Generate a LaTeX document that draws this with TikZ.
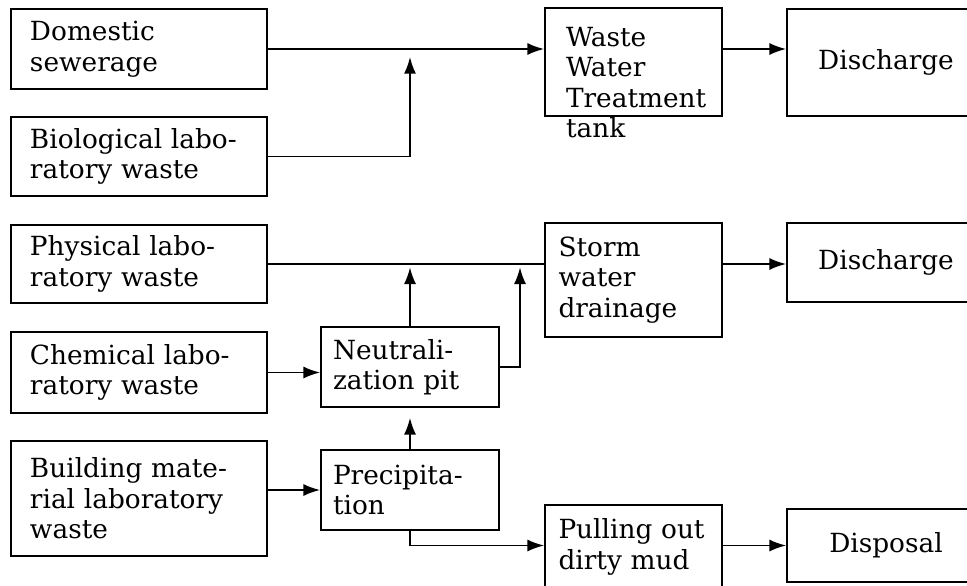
\documentclass[tikz,border=0pt]{standalone}
\usepackage{fontspec}
\setmainfont{DejaVu Serif}
\usetikzlibrary{arrows.meta,calc}

\begin{document}
\begin{tikzpicture}[x=0.3mm, y=-0.3mm, line width=1.5pt,
box/.style={rectangle,draw,inner ysep=0pt,font=\fontsize{22.5}{26}\selectfont},
inbox/.style={box,inner xsep=5.7mm,text width=65.4mm,align=left},
midbox/.style={box,inner xsep=3.6mm,text width=46.2mm,align=left,minimum height=24mm},
tankbox/.style={box,inner xsep=4.05mm,text width=45mm,align=left},
outbox/.style={box,minimum width=59.4mm,align=center},
boxtext/.style={font=\fontsize{22.5}{26}\selectfont,align=left,inner sep=0pt},
flow/.style={-{Latex[length=5mm,width=3.6mm]}}
]
\useasboundingbox (0,0) rectangle (967,585);
\clip (0,0) rectangle (967,585);

%% sources
\node[inbox, minimum height=24mm] (dom) at (139,49) {Domestic\\sewerage};
\node[inbox, minimum height=23.7mm] (bio) at (139,156.5) {Biological labo-\\ratory waste};
\node[inbox, minimum height=23.4mm] (phy) at (139,264) {Physical labo-\\ratory waste};
\node[inbox, minimum height=24.3mm] (chem) at (139,372.5) {Chemical labo-\\ratory waste};
\node[inbox, minimum height=34.5mm] (bld) at (139,498.5) {Building mate-\\rial laboratory\\waste};

%% treatment
\node[midbox] (neu) at (410,367) {Neutrali-\\zation pit};
\node[midbox] (pre) at (410,490) {Precipita-\\tion};
\node[tankbox, minimum height=32.4mm] (wwt) at (633.5,62) {};
\node[boxtext, anchor=north west] (wwttext) at ($(wwt.north west)+(21,19)$) {Waste\\Water\\Treatment\\tank};
\node[tankbox, minimum height=34.2mm] (storm) at (633.5,280) {Storm\\water\\drainage};
\node[tankbox, minimum height=25.2mm] (pull) at (633.5,547) {Pulling out\\dirty mud};

%% outlets
\node[outbox, minimum height=32.1mm] (dis1) at (886,62.5) {Discharge};
\node[outbox, minimum height=23.7mm] (dis2) at (886,262.5) {Discharge};
\node[outbox, minimum height=21.9mm] (disp) at (886,545.5) {Disposal};

\coordinate (j1) at (neu.north |- dom.east);
\coordinate (j2) at (520,264);

\draw[flow] (dom.east) -- (wwt.west |- dom.east);
\draw[flow, shorten >=2.4mm] (bio.east) -| (j1);
\draw (phy.east) -- (storm.west |- phy.east);
\draw[flow, shorten >=1mm] (neu.north) -- (neu.north |- phy.east);
\draw[flow, shorten >=1mm] (neu.east) -| (j2);
\draw[flow] (chem.east) -- (neu.west |- chem.east);
\draw[flow] (bld.east |- pre.west) -- (pre.west);
\draw[flow, shorten >=3mm] (pre.north) -- (neu.south);
\draw[flow] (pre.south) |- (pull.west |- disp.west);
\draw[flow] (wwt.east |- dom.east) -- (dis1.west |- dom.east);
\draw[flow] (storm.east |- phy.east) -- (dis2.west |- phy.east);
\draw[flow] (pull.east |- disp.west) -- (disp.west);
\end{tikzpicture}
\end{document}
